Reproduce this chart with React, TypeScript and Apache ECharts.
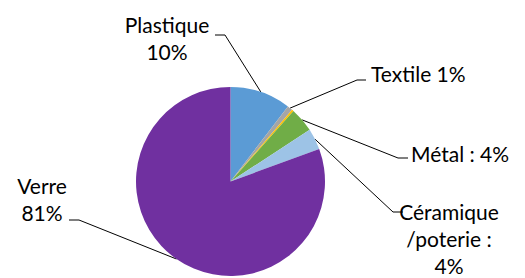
import React, { useEffect, useRef } from "react";
import * as echarts from "echarts";

// Data
const categories = ["Plastique", "Textile", "Autre", "Métal", "Céramique /poterie", "Verre"];
const values = [10.4, 0.9, 0.3, 4.2, 3.6, 80.6];
const labelTexts = ["Plastique\n10%", "Textile 1%", "", "Métal : 4%", "Céramique\n/poterie :\n4%", "Verre\n81%"];
const colors = ["#5B9BD5", "#A5A5A5", "#FFC000", "#70AD47", "#9DC3E6", "#7030A0"];

// Label layout (positions only)
type LP = { x: number; y: number; align: string; elbow: number[]; end: number[] } | null;
const labelLayouts: LP[] = [
  { x: 167, y: 38, align: "center", elbow: [225, 35], end: [215, 35] },
  { x: 371, y: 73, align: "left", elbow: [357, 80], end: [366, 80] },
  null,
  { x: 411, y: 153, align: "left", elbow: [398, 158], end: [408, 158] },
  { x: 449, y: 238, align: "center", elbow: [393, 212], end: [403, 212] },
  { x: 42, y: 199, align: "center", elbow: [79, 220], end: [69, 220] },
];

export default function App() {
  const ref = useRef<HTMLDivElement>(null);
  useEffect(() => {
    if (!ref.current) return;
    const chart = echarts.init(ref.current, undefined, { renderer: "svg" });
    chart.setOption({
      animation: false,
      backgroundColor: "#ffffff",
      series: [
        {
          type: "pie",
          center: [230.5, 181.5],
          radius: 94.5,
          startAngle: 90,
          clockwise: true,
          avoidLabelOverlap: false,
          data: categories.map((name, i) => ({
            name,
            value: values[i],
            itemStyle: { color: colors[i] },
            label: { show: labelTexts[i] !== "" },
            labelLine: { show: labelTexts[i] !== "" },
          })),
          itemStyle: { borderWidth: 0 },
          label: {
            show: true,
            position: "outside",
            formatter: (p: any) => labelTexts[p.dataIndex],
            color: "#000",
            fontFamily: "Lato",
            fontSize: 21,
            lineHeight: 27,
          },
          labelLine: {
            show: true,
            length: 10,
            length2: 10,
            lineStyle: { color: "#000", width: 1 },
          },
          labelLayout: (params: any) => {
            const l = labelLayouts[params.dataIndex];
            if (!l) return {};
            const start = params.labelLinePoints ? params.labelLinePoints[0] : l.elbow;
            return {
              x: l.x,
              y: l.y,
              align: l.align,
              verticalAlign: "middle",
              labelLinePoints: [start, l.elbow, l.end],
            };
          },
        },
      ],
    });
    return () => chart.dispose();
  }, []);
  return (
    <div
      ref={ref}
      style={{ position: "fixed", left: 0, top: 0, width: 525, height: 278 }}
    />
  );
}
